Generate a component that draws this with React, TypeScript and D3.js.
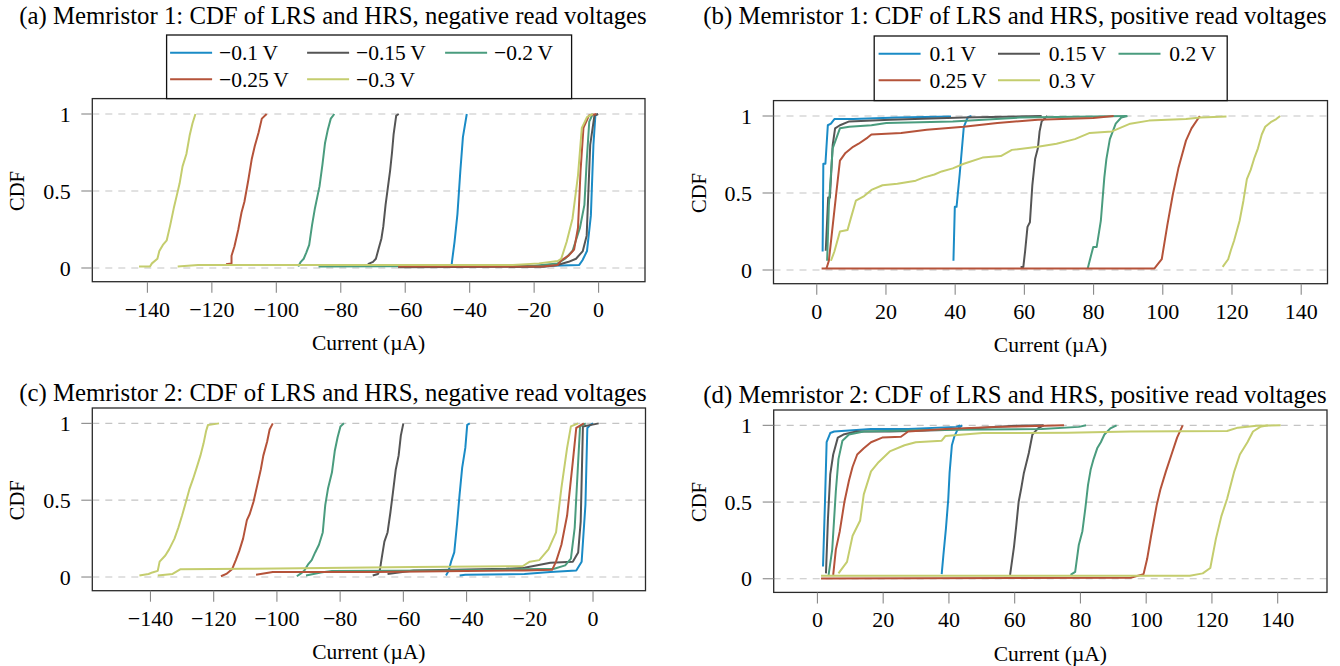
import React from 'react';
import * as d3 from 'd3';

type Pt = [number, number];

// ---------- series styling / labels ----------
const seriesColors = ['#1a8bc6', '#555555', '#4a9c7e', '#b5533a', '#c4cd6e'];
const negLabels = ['\u22120.1\u2009V', '\u22120.15\u2009V', '\u22120.2\u2009V', '\u22120.25\u2009V', '\u22120.3\u2009V'];
const posLabels = ['0.1\u2009V', '0.15\u2009V', '0.2\u2009V', '0.25\u2009V', '0.3\u2009V'];
const negTicks = [-140, -120, -100, -80, -60, -40, -20, 0];
const posTicks = [0, 20, 40, 60, 80, 100, 120, 140];
const yTicks = [0, 0.5, 1];

// ---------- Panel (a): Memristor 1, negative ----------
const A_LRS_01: Pt[] = [[-45.6, 0.02], [-45.5, 0.04], [-44.7, 0.17], [-43.8, 0.35], [-42.9, 0.63], [-42.1, 0.85], [-40.9, 1.0]];
const A_HRS_01: Pt[] = [[-20, 0.012], [-6, 0.02], [-5, 0.05], [-3.6, 0.11], [-2.4, 0.34], [-1.6, 0.8], [-1.0, 0.99], [-0.3, 1]];
const A_LRS_015: Pt[] = [[-71.6, 0.025], [-70, 0.04], [-69.1, 0.06], [-68.2, 0.13], [-67.4, 0.19], [-66.8, 0.27], [-66.1, 0.41], [-65.4, 0.52], [-64.7, 0.63], [-64.1, 0.75], [-63.6, 0.87], [-62.8, 0.99], [-62, 1]];
const A_HRS_015: Pt[] = [[-62.2, 0.005], [-17, 0.008], [-12.7, 0.02], [-9.3, 0.04], [-7, 0.06], [-4.9, 0.11], [-3.7, 0.21], [-2.6, 0.8], [-1.3, 0.99], [-0.1, 1]];
const A_LRS_02: Pt[] = [[-93.2, 0.01], [-92.4, 0.04], [-91.5, 0.06], [-90.7, 0.1], [-89.8, 0.15], [-88.9, 0.28], [-88, 0.39], [-87.2, 0.47], [-86.6, 0.53], [-85.7, 0.67], [-84.9, 0.81], [-84, 0.9], [-83.1, 0.97], [-82, 1]];
const A_HRS_02: Pt[] = [[-86.9, 0.01], [-20, 0.015], [-12.7, 0.03], [-10.4, 0.06], [-8.1, 0.11], [-5.8, 0.26], [-4.4, 0.41], [-3.7, 0.69], [-2.9, 0.95], [-1.8, 1]];
const A_LRS_025: Pt[] = [[-115.6, 0.025], [-113.9, 0.03], [-113.9, 0.08], [-113, 0.14], [-111.8, 0.25], [-110.8, 0.36], [-109.9, 0.43], [-108.7, 0.57], [-107.6, 0.71], [-106.7, 0.79], [-105.5, 0.88], [-104.5, 0.97], [-103, 1]];
const A_HRS_025: Pt[] = [[-62.2, 0.01], [-17.4, 0.01], [-12.7, 0.02], [-11.6, 0.05], [-9.3, 0.08], [-7.6, 0.12], [-6.4, 0.26], [-5.6, 0.63], [-4.7, 0.91], [-3, 0.99], [-0.7, 1]];
const A_LRS_03: Pt[] = [[-142.6, 0.01], [-139.2, 0.01], [-138.6, 0.03], [-136.9, 0.06], [-136.3, 0.11], [-135.2, 0.15], [-134, 0.18], [-132.9, 0.28], [-131.7, 0.4], [-130.9, 0.47], [-130, 0.55], [-129.1, 0.66], [-127.9, 0.74], [-126.9, 0.86], [-126, 0.94], [-125.1, 1]];
const A_HRS_03: Pt[] = [[-130.6, 0.01], [-124.3, 0.02], [-26.6, 0.02], [-18.5, 0.03], [-12.7, 0.045], [-11.6, 0.06], [-9.9, 0.17], [-8.1, 0.32], [-6.4, 0.6], [-5.2, 0.91], [-3.6, 0.98], [-1.8, 1]];

// ---------- Panel (b): Memristor 1, positive ----------
const B_HRS_01: Pt[] = [[1.7, 0.12], [1.9, 0.69], [2.5, 0.69], [3.2, 0.94], [4.1, 0.95], [5.1, 0.98], [10.5, 0.98], [23.3, 0.99], [38.8, 0.996]];
const B_LRS_01: Pt[] = [[39.5, 0.06], [39.9, 0.41], [40.4, 0.41], [41.3, 0.62], [42, 0.8], [42.5, 0.93], [43.6, 0.99], [44.7, 1]];
const B_HRS_015: Pt[] = [[2.6, 0.125], [3.3, 0.47], [3.8, 0.47], [4.6, 0.81], [5.3, 0.92], [6.7, 0.94], [9.4, 0.965], [21.2, 0.976], [42.5, 0.99], [65, 1]];
const B_LRS_015: Pt[] = [[58.9, 0.02], [59.7, 0.02], [60.2, 0.12], [60.9, 0.28], [61.6, 0.31], [62.3, 0.55], [63.1, 0.72], [63.9, 0.79], [64.4, 0.9], [65, 0.965], [66.6, 1]];
const B_HRS_02: Pt[] = [[3, 0.06], [3.5, 0.42], [4.6, 0.79], [6.7, 0.92], [9.4, 0.93], [15.8, 0.94], [20.1, 0.955], [39.3, 0.965], [58.6, 0.99], [79.9, 0.996], [89.6, 1]];
const B_LRS_02: Pt[] = [[78.3, 0.01], [79.9, 0.15], [80.9, 0.15], [82.1, 0.32], [83.1, 0.6], [83.7, 0.72], [84.7, 0.85], [86.4, 0.95], [88, 0.99], [89.8, 1]];
const B_HRS_025: Pt[] = [[2.8, 0.01], [3.5, 0.06], [5.7, 0.51], [6.7, 0.71], [8.3, 0.76], [10.5, 0.8], [12.1, 0.82], [14.7, 0.86], [15.8, 0.88], [24.4, 0.89], [31.8, 0.91], [42.5, 0.93], [52.2, 0.955], [63.9, 0.976], [79.9, 0.987], [85.8, 1]];
const B_LRS_025: Pt[] = [[1.4, 0.01], [97.6, 0.01], [99.7, 0.07], [101.3, 0.29], [102.9, 0.49], [104.5, 0.66], [106.7, 0.84], [108.3, 0.92], [110.7, 1]];
const B_HRS_03: Pt[] = [[4.1, 0.06], [5.1, 0.12], [6.7, 0.25], [8.9, 0.26], [9.9, 0.34], [11.3, 0.45], [13.7, 0.48], [15.8, 0.52], [19, 0.55], [23.3, 0.56], [28.6, 0.58], [30.8, 0.6], [34, 0.62], [36.1, 0.64], [39.3, 0.66], [42.5, 0.69], [47.9, 0.73], [53.2, 0.74], [56.4, 0.78], [63.9, 0.8], [69.3, 0.82], [74.6, 0.85], [78.9, 0.89], [85.3, 0.9], [90.6, 0.95], [96, 0.97], [106.7, 0.98], [110.9, 0.99], [118.4, 0.996]];
const B_LRS_03: Pt[] = [[117.3, 0.02], [118.9, 0.07], [119.7, 0.13], [120.6, 0.19], [122.2, 0.32], [123.3, 0.45], [124.3, 0.59], [125.4, 0.65], [126.5, 0.73], [127.5, 0.79], [128.6, 0.88], [129.6, 0.93], [131.2, 0.96], [132.8, 0.98], [133.9, 1]];

// ---------- Panel (c): Memristor 2, negative ----------
const C_LRS_01: Pt[] = [[-46.5, 0.01], [-45.7, 0.04], [-44.9, 0.1], [-43.9, 0.16], [-43, 0.35], [-42.2, 0.54], [-41.4, 0.71], [-40.4, 0.84], [-39.8, 0.99], [-39, 1]];
const C_HRS_01: Pt[] = [[-42.2, 0.01], [-40.4, 0.015], [-21.7, 0.02], [-13.5, 0.033], [-5.3, 0.043], [-3.6, 0.1], [-2.4, 0.47], [-1.8, 0.97], [-0.8, 0.99], [0, 1]];
const C_LRS_015: Pt[] = [[-69.7, 0.01], [-68, 0.02], [-67.4, 0.05], [-66.8, 0.13], [-66, 0.23], [-65, 0.29], [-64.1, 0.42], [-63.3, 0.55], [-62.4, 0.7], [-61.5, 0.79], [-60.8, 0.92], [-60, 1]];
const C_HRS_015: Pt[] = [[-65, 0.02], [-60.3, 0.033], [-56.8, 0.043], [-27.5, 0.054], [-21.7, 0.06], [-13.5, 0.093], [-6.4, 0.1], [-4.7, 0.16], [-3.9, 0.36], [-3.2, 0.98], [1.8, 1]];
const C_LRS_02: Pt[] = [[-93.7, 0.005], [-92.6, 0.02], [-91.4, 0.04], [-90.2, 0.08], [-89, 0.11], [-87.9, 0.16], [-86.7, 0.21], [-85.5, 0.29], [-84.7, 0.47], [-83.8, 0.58], [-82.6, 0.68], [-81.7, 0.82], [-80.8, 0.91], [-79.9, 0.98], [-78.8, 1]];
const C_HRS_02: Pt[] = [[-90.8, 0.01], [-86.1, 0.03], [-82.6, 0.04], [-45.1, 0.043], [-12.3, 0.054], [-8.8, 0.076], [-7, 0.12], [-5.8, 0.32], [-4.7, 0.75], [-4.1, 0.98], [-2.3, 1]];
const C_LRS_025: Pt[] = [[-117.7, 0.005], [-116, 0.02], [-114.2, 0.05], [-113, 0.11], [-111.9, 0.17], [-110.7, 0.25], [-109.5, 0.37], [-108.6, 0.41], [-107.4, 0.49], [-106.3, 0.59], [-105.1, 0.7], [-104.3, 0.79], [-103.1, 0.88], [-102.3, 0.96], [-101.3, 1]];
const C_HRS_025: Pt[] = [[-106.6, 0.015], [-101.3, 0.033], [-68.5, 0.033], [-21.7, 0.043], [-12.9, 0.048], [-11.7, 0.1], [-10, 0.21], [-8.2, 0.4], [-6.4, 0.75], [-5.3, 0.97], [-2.9, 1]];
const C_LRS_03: Pt[] = [[-143.5, 0.01], [-140.6, 0.02], [-139.4, 0.03], [-137.7, 0.04], [-137.1, 0.1], [-135.3, 0.14], [-134.1, 0.18], [-132.4, 0.25], [-131.2, 0.32], [-130, 0.4], [-128.9, 0.48], [-127.7, 0.57], [-126.5, 0.64], [-125.4, 0.71], [-124.2, 0.79], [-123.2, 0.87], [-122.4, 0.95], [-121.8, 0.99], [-118.3, 1]];
const C_HRS_03: Pt[] = [[-137.7, 0.01], [-133, 0.02], [-130.6, 0.05], [-109.5, 0.054], [-56.8, 0.065], [-22.3, 0.07], [-20, 0.1], [-17, 0.11], [-14.1, 0.18], [-11.7, 0.29], [-10, 0.58], [-8.2, 0.84], [-7, 0.98], [-4.7, 1]];

// ---------- Panel (d): Memristor 2, positive ----------
const D_HRS_01: Pt[] = [[1.7, 0.08], [2.3, 0.5], [2.8, 0.89], [3.9, 0.95], [5.1, 0.96], [16.3, 0.976], [27.6, 0.976], [42.3, 0.99], [43.4, 1]];
const D_LRS_01: Pt[] = [[37.8, 0.03], [38.3, 0.15], [39.1, 0.33], [39.8, 0.52], [40.2, 0.69], [40.9, 0.87], [41.7, 0.93], [42.8, 0.98], [44, 1]];
const D_HRS_015: Pt[] = [[2.6, 0.035], [3.2, 0.39], [3.9, 0.68], [4.8, 0.81], [6.2, 0.92], [7.9, 0.94], [11.8, 0.96], [22, 0.96], [38.9, 0.97], [60.3, 0.998], [68.8, 1]];
const D_LRS_015: Pt[] = [[58.6, 0.025], [59.8, 0.21], [60.5, 0.35], [61.2, 0.5], [62, 0.59], [62.8, 0.69], [63.5, 0.75], [64.3, 0.82], [65.4, 0.94], [67.1, 0.98], [68.8, 1]];
const D_HRS_02: Pt[] = [[3.4, 0.025], [4.5, 0.19], [5.6, 0.57], [6.4, 0.78], [7.6, 0.9], [9.6, 0.94], [14.1, 0.96], [33.3, 0.97], [68.2, 0.976], [79.5, 0.99], [81.7, 1]];
const D_LRS_02: Pt[] = [[77, 0.025], [78.4, 0.045], [79.5, 0.22], [80.6, 0.31], [81.5, 0.46], [82.3, 0.61], [83.1, 0.71], [84, 0.78], [85.1, 0.85], [86.2, 0.89], [87.3, 0.94], [89.1, 0.98], [91, 1]];
const D_HRS_025: Pt[] = [[4.8, 0.025], [5.6, 0.19], [6.8, 0.31], [8.2, 0.5], [9.6, 0.64], [10.7, 0.73], [12.1, 0.81], [14.1, 0.85], [16.3, 0.89], [19.7, 0.92], [25.4, 0.926], [27.6, 0.96], [38.9, 0.976], [54.7, 0.99], [75, 1]];
const D_LRS_025: Pt[] = [[1.1, 0.002], [95.3, 0.007], [99.2, 0.03], [100.3, 0.13], [101.5, 0.28], [103.2, 0.48], [104.3, 0.58], [106, 0.7], [107.7, 0.81], [109.4, 0.92], [111.1, 1]];
const D_HRS_03: Pt[] = [[6.4, 0.035], [9, 0.11], [10.7, 0.28], [13, 0.38], [14.1, 0.55], [16.3, 0.7], [18.6, 0.76], [22, 0.83], [26.5, 0.87], [29.9, 0.89], [37.8, 0.9], [38.9, 0.93], [50.2, 0.95], [76.1, 0.952], [95.3, 0.96], [124.6, 0.963], [127.9, 0.985], [133.6, 0.998], [140.9, 1]];
const D_LRS_03: Pt[] = [[1.1, 0.02], [113.3, 0.02], [117.2, 0.035], [119.5, 0.07], [121.2, 0.26], [122.9, 0.41], [124.6, 0.52], [126.8, 0.7], [128.5, 0.81], [130.8, 0.89], [132.5, 0.96], [134.7, 0.99], [137, 1]];

// ---------- layout (not data) ----------
const FONT = '"Liberation Serif", "Times New Roman", Times, serif';

type LegendCfg = { x: number; y: number; w: number; h: number; cols: number[]; textGap: number; rows: number[] };

type PanelCfg = {
  title: string;
  titleX: number;
  titleY: number;
  left: number;
  right: number;
  top: number;
  bottom: number;
  xDomain: [number, number];
  xTicks: number[];
  curves: Pt[][][]; // per voltage: [LRS, HRS]
  labels: string[];
  legend?: LegendCfg;
};

const panels: PanelCfg[] = [
  {
    title: '(a) Memristor 1: CDF of LRS and HRS, negative read voltages',
    titleX: 333, titleY: 24,
    left: 92.3, right: 645, top: 98.6, bottom: 281.7,
    xDomain: [-157.1, 14.4], xTicks: negTicks,
    curves: [[A_LRS_01, A_HRS_01], [A_LRS_015, A_HRS_015], [A_LRS_02, A_HRS_02], [A_LRS_025, A_HRS_025], [A_LRS_03, A_HRS_03]],
    labels: negLabels,
    legend: { x: 166.6, y: 35, w: 405, h: 63.6, cols: [3.5, 140.5, 278.5], textGap: 49, rows: [17.8, 44.3] },
  },
  {
    title: '(b) Memristor 1: CDF of LRS and HRS, positive read voltages',
    titleX: 1015, titleY: 24,
    left: 773.5, right: 1327.5, top: 100.6, bottom: 283.7,
    xDomain: [-12.5, 147.6], xTicks: posTicks,
    curves: [[B_LRS_01, B_HRS_01], [B_LRS_015, B_HRS_015], [B_LRS_02, B_HRS_02], [B_LRS_025, B_HRS_025], [B_LRS_03, B_HRS_03]],
    labels: posLabels,
    legend: { x: 874.2, y: 36, w: 353, h: 64.6, cols: [4.4, 123.8, 244.3], textGap: 50.8, rows: [17.8, 44.3] },
  },
  {
    title: '(c) Memristor 2: CDF of LRS and HRS, negative read voltages',
    titleX: 333, titleY: 401,
    left: 92.3, right: 645.5, top: 408, bottom: 590.7,
    xDomain: [-158.4, 16.6], xTicks: negTicks,
    curves: [[C_LRS_01, C_HRS_01], [C_LRS_015, C_HRS_015], [C_LRS_02, C_HRS_02], [C_LRS_025, C_HRS_025], [C_LRS_03, C_HRS_03]],
    labels: negLabels,
  },
  {
    title: '(d) Memristor 2: CDF of LRS and HRS, positive read voltages',
    titleX: 1015, titleY: 403,
    left: 773.7, right: 1327, top: 410, bottom: 592.4,
    xDomain: [-13.3, 155], xTicks: posTicks,
    curves: [[D_LRS_01, D_HRS_01], [D_LRS_015, D_HRS_015], [D_LRS_02, D_HRS_02], [D_LRS_025, D_HRS_025], [D_LRS_03, D_HRS_03]],
    labels: posLabels,
  },
];

const fmtTick = (v: number) => (v < 0 ? '\u2212' + Math.abs(v) : String(v));

function Panel({ p }: { p: PanelCfg }) {
  const x = d3.scaleLinear().domain(p.xDomain).range([p.left, p.right]);
  const y = d3.scaleLinear().domain([-0.089, 1.1]).range([p.bottom, p.top]);
  const line = d3
    .line<Pt>()
    .x((d) => x(d[0]))
    .y((d) => y(d[1]));
  const clipId = 'clip-' + p.title.slice(1, 2);
  return (
    <g>
      <defs>
        <clipPath id={clipId}>
          <rect x={p.left} y={p.top} width={p.right - p.left} height={p.bottom - p.top} />
        </clipPath>
      </defs>
      <text x={p.titleX} y={p.titleY} textAnchor="middle" fontSize={24.8} fill="#000" fontFamily={FONT}>
        {p.title}
      </text>
      {/* grid */}
      {yTicks.map((t) => (
        <line key={'g' + t} x1={p.left} x2={p.right} y1={y(t)} y2={y(t)} stroke="#c4c4c4" strokeWidth={1.2} strokeDasharray="7 6" />
      ))}
      {/* curves */}
      <g clipPath={`url(#${clipId})`} fill="none" strokeWidth={2} strokeLinejoin="round">
        {p.curves.map((pair, i) =>
          pair.map((c, j) => <path key={i + '-' + j} d={line(c) || ''} stroke={seriesColors[i]} />)
        )}
      </g>
      {/* frame */}
      <rect x={p.left} y={p.top} width={p.right - p.left} height={p.bottom - p.top} fill="none" stroke="#2a2a2a" strokeWidth={1.3} />
      {/* y ticks */}
      {yTicks.map((t) => (
        <g key={'y' + t}>
          <line x1={p.left - 11} x2={p.left} y1={y(t)} y2={y(t)} stroke="#888" strokeWidth={1.1} />
          <text x={p.left - 21.6} y={y(t)} dy="0.35em" textAnchor="end" fontSize={22} fontFamily={FONT} fill="#000">
            {String(t)}
          </text>
        </g>
      ))}
      {/* x ticks */}
      {p.xTicks.map((t) => (
        <g key={'x' + t}>
          <line x1={x(t)} x2={x(t)} y1={p.bottom} y2={p.bottom + 11} stroke="#888" strokeWidth={1.1} />
          <text x={x(t)} y={p.bottom + 35} textAnchor="middle" fontSize={22} fontFamily={FONT} fill="#000">
            {fmtTick(t)}
          </text>
        </g>
      ))}
      <text x={(p.left + p.right) / 2} y={p.bottom + 68.5} textAnchor="middle" fontSize={21.5} fontFamily={FONT} fill="#000">
        Current (µA)
      </text>
      <text
        transform={`translate(${p.left - 75}, ${y(0.5)}) rotate(-90)`}
        dy="0.35em"
        textAnchor="middle"
        fontSize={20.5}
        fontFamily={FONT}
        fill="#000"
      >
        CDF
      </text>
      {p.legend && (
        <g>
          <rect x={p.legend.x} y={p.legend.y} width={p.legend.w} height={p.legend.h} fill="#fff" stroke="#111" strokeWidth={1.3} />
          {p.labels.map((lab, i) => {
            const lg = p.legend as LegendCfg;
            const cx = lg.x + lg.cols[i % 3];
            const cy = lg.y + lg.rows[Math.floor(i / 3)];
            return (
              <g key={lab}>
                <line x1={cx} x2={cx + 42} y1={cy} y2={cy} stroke={seriesColors[i]} strokeWidth={2} />
                <text x={cx + lg.textGap} y={cy} dy="0.35em" fontSize={21.5} fontFamily={FONT} fill="#000">
                  {lab}
                </text>
              </g>
            );
          })}
        </g>
      )}
    </g>
  );
}

export default function App() {
  return (
    <svg
      width={1340}
      height={666}
      viewBox="0 0 1340 666"
      style={{ position: 'absolute', left: 0, top: 0, background: '#fff' }}
    >
      <rect x={0} y={0} width={1340} height={666} fill="#fff" />
      {panels.map((p) => (
        <Panel key={p.title} p={p} />
      ))}
    </svg>
  );
}
